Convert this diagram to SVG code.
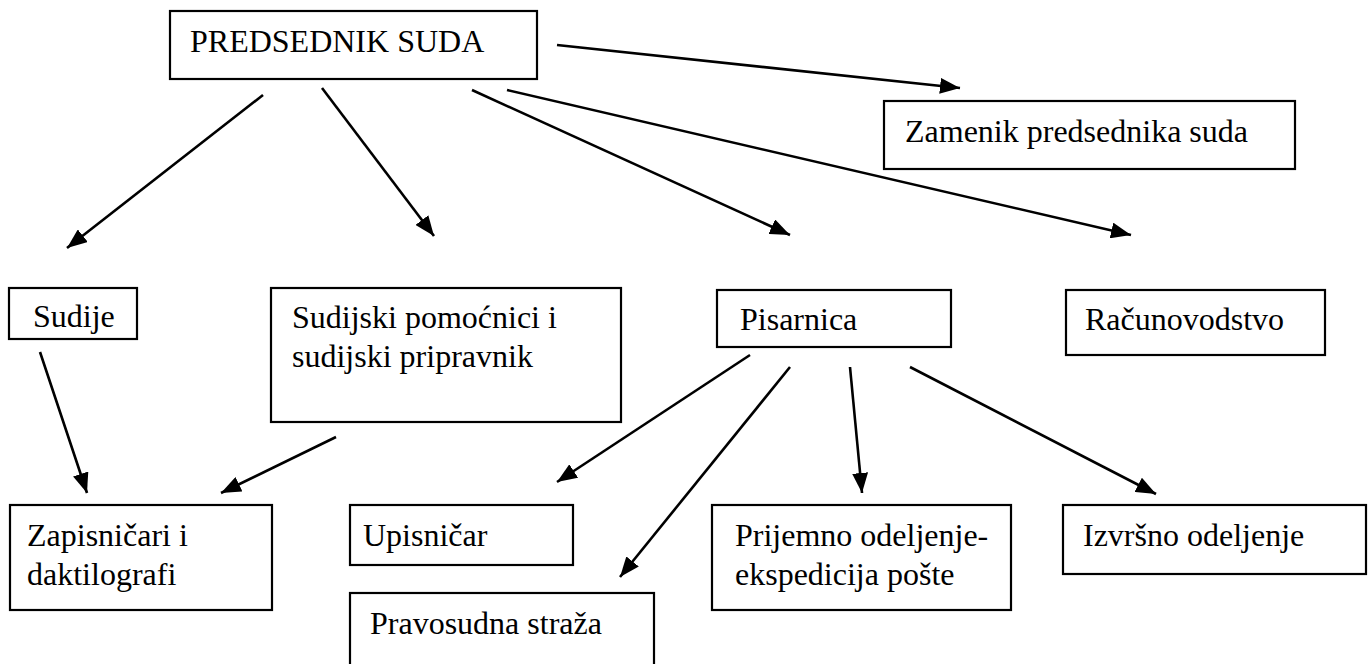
<svg xmlns="http://www.w3.org/2000/svg" width="1371" height="664" viewBox="0 0 1371 664">
<defs>
<marker id="ah" markerUnits="userSpaceOnUse" markerWidth="20" markerHeight="16" refX="20" refY="8" orient="auto">
<path d="M0,0 L20,8 L0,16 Z" fill="#000"/>
</marker>
<style>
.box{fill:#fff;stroke:#000;stroke-width:2.2}
.c{stroke:#000;stroke-width:2.6;fill:none;marker-end:url(#ah)}
</style>
</defs>
<rect width="1371" height="664" fill="#fff"/>
<g id="connectors">
<line class="c" x1="557" y1="45" x2="960" y2="88"/>
<line class="c" x1="263" y1="95" x2="67" y2="248"/>
<line class="c" x1="322" y1="88" x2="434" y2="236"/>
<line class="c" x1="472" y1="90" x2="790" y2="235"/>
<line class="c" x1="507" y1="90" x2="1131" y2="235"/>
<line class="c" x1="40" y1="352" x2="87" y2="493"/>
<line class="c" x1="336" y1="437" x2="221" y2="493"/>
<line class="c" x1="750" y1="355" x2="557" y2="482"/>
<line class="c" x1="790" y1="367" x2="620" y2="577"/>
<line class="c" x1="850" y1="367" x2="862" y2="493"/>
<line class="c" x1="910" y1="367" x2="1156" y2="494"/>
</g>
<g font-family="'Liberation Serif', 'Times New Roman', Tinos, 'DejaVu Serif', serif" font-size="32" fill="#000">
<g id="predsednik"><rect class="box" x="170" y="11" width="367" height="68"/><text x="190" y="52">PREDSEDNIK SUDA</text></g>
<g id="zamenik"><rect class="box" x="884" y="101" width="411" height="68"/><text x="905" y="142">Zamenik predsednika suda</text></g>
<g id="sudije"><rect class="box" x="9" y="288" width="128" height="51"/><text x="33" y="327">Sudije</text></g>
<g id="sudijski"><rect class="box" x="271" y="288" width="350" height="134"/><text x="292" y="328">Sudijski pomoćnici i</text><text x="292" y="367">sudijski pripravnik</text></g>
<g id="pisarnica"><rect class="box" x="717" y="290" width="234" height="57"/><text x="740" y="330">Pisarnica</text></g>
<g id="racunovodstvo"><rect class="box" x="1066" y="290" width="259" height="65"/><text x="1085" y="330">Računovodstvo</text></g>
<g id="zapisnicari"><rect class="box" x="10" y="505" width="262" height="105"/><text x="27" y="546">Zapisničari i</text><text x="27" y="585">daktilografi</text></g>
<g id="upisnicar"><rect class="box" x="350" y="505" width="223" height="60"/><text x="363" y="546">Upisničar</text></g>
<g id="pravosudna"><rect class="box" x="350" y="593" width="304" height="75"/><text x="370" y="634">Pravosudna straža</text></g>
<g id="prijemno"><rect class="box" x="712" y="505" width="299" height="105"/><text x="735" y="546">Prijemno odeljenje-</text><text x="735" y="585">ekspedicija pošte</text></g>
<g id="izvrsno"><rect class="box" x="1063" y="505" width="303" height="69"/><text x="1083" y="546">Izvršno odeljenje</text></g>
</g>
</svg>
